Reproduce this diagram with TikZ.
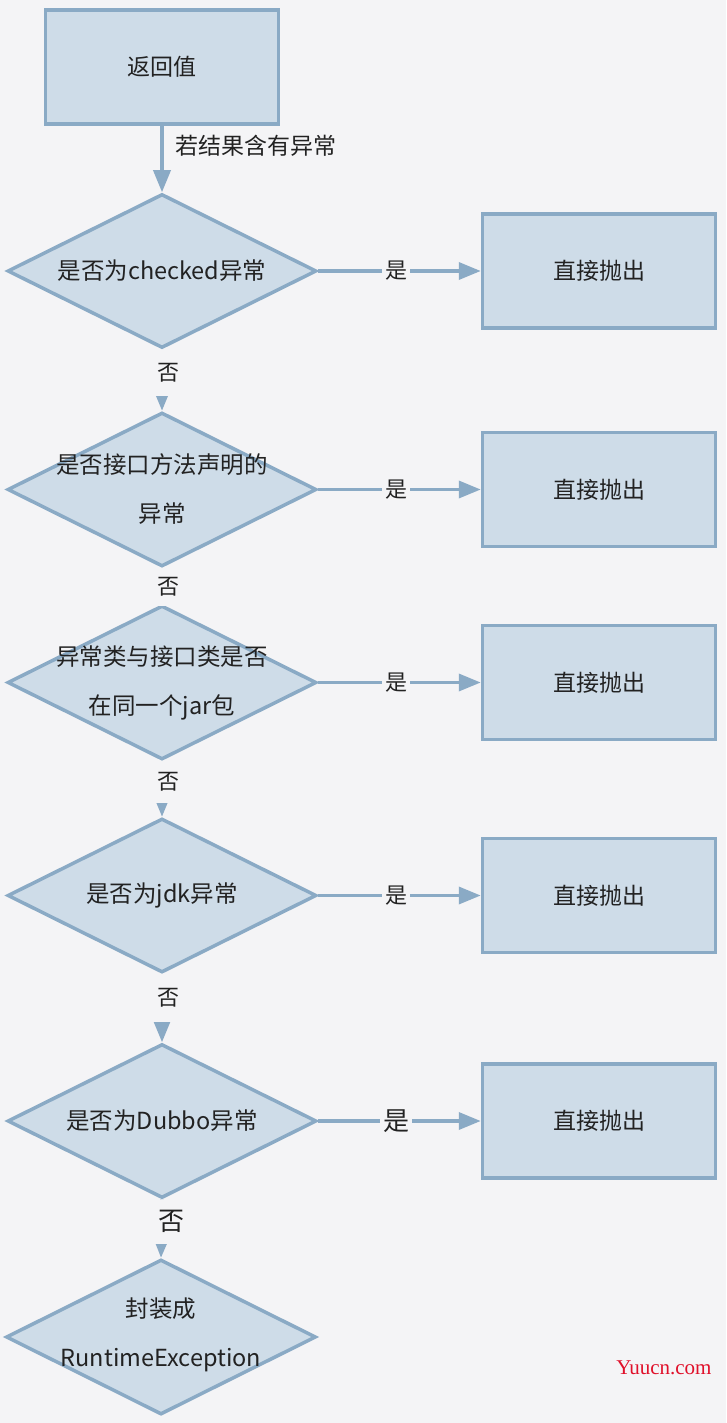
\documentclass[tikz,border=0pt]{standalone}
\usepackage{fontspec}
\setmainfont{Noto Sans CJK SC}
\newfontfamily\wmfont{Liberation Serif}
\usetikzlibrary{arrows.meta,shapes.geometric}
\definecolor{bgcol}{HTML}{F4F4F6}
\definecolor{edgecol}{HTML}{8AAAC5}
\definecolor{fillcol}{HTML}{CEDCE8}
\definecolor{txtcol}{HTML}{222222}
\definecolor{wmred}{HTML}{E0102A}

\begin{document}
\begin{tikzpicture}[x=1pt, y=-1pt,
    actbox/.style={draw=edgecol, fill=fillcol, line width=3.5pt, minimum width=233pt, minimum height=114pt, inner sep=0pt, text=txtcol, font=\fontsize{23}{28}\selectfont},
    decision/.style={diamond, draw=edgecol, fill=fillcol, line width=3.5pt, minimum width=309pt, minimum height=154pt, inner sep=0pt},
    dtext/.style={align=center, inner sep=0pt, text=txtcol, font=\fontsize{23.5}{49}\selectfont},
    flow/.style={draw=edgecol, line width=3.5pt, -{Triangle[length=22pt, width=17pt]}},
    yeslbl/.style={fill=bgcol, inner xsep=3pt, inner ysep=2pt, text=txtcol, font=\fontsize{22}{26}\selectfont},
    nolbl/.style={fill=bgcol, inner sep=0pt, text width=44pt, align=center, text=txtcol, font=\fontsize{22}{26}\selectfont},
]
    % Background and page size
    \fill[bgcol] (0,0) rectangle (726,1423);

    % Start box
    \node[actbox] (ret) at (162,67) {返回值};

    % Decisions with their "throw" boxes
    \foreach \n/\y in {1/271, 2/489.5, 3/682.5, 4/895.5, 5/1121} {
        \node[decision] (d\n) at (162,\y) {};
        \node[actbox] (b\n) at (599,\y) {直接抛出};
    }
    \node[decision, minimum width=310pt, minimum height=155pt] (d6) at (161,1337) {};

    % Decision texts
    \node[dtext] (q1) at (d1) {是否为checked异常};
    \node[dtext] (q2) at (d2) {是否接口方法声明的\\异常};
    \node[dtext] (q3) at (d3) {异常类与接口类是否\\在同一个jar包};
    \node[dtext] (q4) at (d4) {是否为jdk异常};
    \node[dtext] (q5) at (d5) {是否为Dubbo异常};
    \node[dtext] (q6) at ([yshift=2pt]d6) {封装成\\RuntimeException};

    % Arrows
    \draw[flow] (ret.south) -- node[right, pos=0.3, inner sep=0pt, xshift=12pt, text=txtcol, font=\fontsize{23}{28}\selectfont] {若结果含有异常} (d1.north);

    \foreach \n in {1,...,4} {
        \draw[flow] (d\n.east) -- node[yeslbl, pos=0.48] {是} (b\n.west);
    }
    \draw[flow] (d5.east) -- node[yeslbl, pos=0.48, font=\fontsize{26}{30}\selectfont] {是} (b5.west);

    \foreach \a/\b/\h in {1/2/46, 2/3/38, 3/4/42, 4/5/48} {
        \draw[flow] (d\a.south) -- node[nolbl, pos=0, anchor=north, xshift=6pt, yshift=2pt, minimum height=\h pt] {否} (d\b.north);
    }
    \draw[flow] (d5.south) -- node[nolbl, pos=0, anchor=north, xshift=9pt, yshift=2pt, minimum height=44pt, font=\fontsize{26}{30}\selectfont] {否} (d6.north);

    % Watermark
    \node[text=wmred, font=\wmfont\fontsize{21}{24}\selectfont] (wm) at (664,1368) {Yuucn.com};
\end{tikzpicture}
\end{document}
